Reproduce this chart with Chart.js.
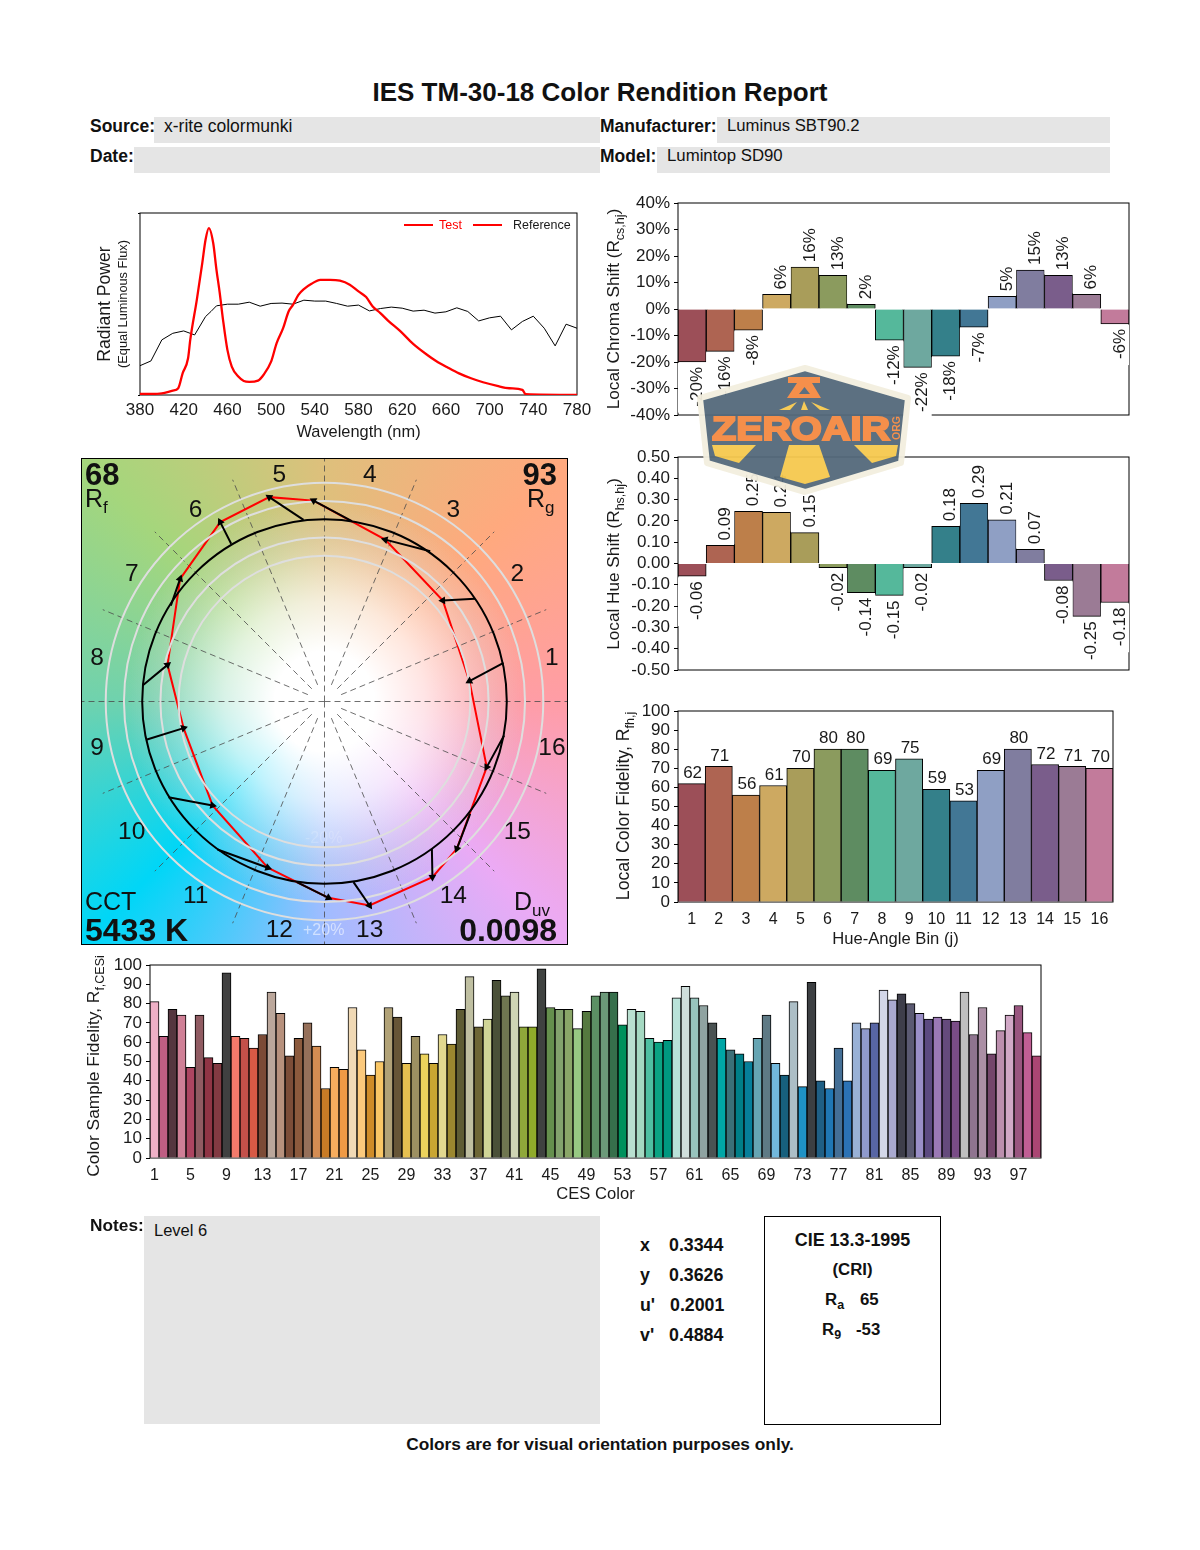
<!DOCTYPE html>
<html>
<head>
<meta charset="utf-8">
<title>IES TM-30-18 Color Rendition Report</title>
<script src="https://cdn.jsdelivr.net/npm/chart.js@4"></script>
<style>
  html, body { margin: 0; padding: 0; background: #fff; }
  body { position: relative; width: 1200px; height: 1550px; overflow: hidden; font-family: "Liberation Sans", Arial, sans-serif; color: #111; }
  canvas { position: absolute; display: block; }
  .t { position: absolute; white-space: nowrap; line-height: 1; }
  .b { font-weight: bold; }
  .box { position: absolute; background: #e5e5e5; }
  .ytitle { position: absolute; white-space: nowrap; line-height: 1; font-size: 17.2px; color: #1a1a1a; transform: translate(-50%, -50%) rotate(-90deg); }
  .ytitle sub { font-size: 12.5px; line-height: 0; }
  .pt { position: absolute; white-space: nowrap; line-height: 1; color: #111; }
  .pt sub { line-height: 0; }
  #logo { position: absolute; left: 0; top: 0; opacity: .95; }
</style>
</head>
<body>

<div class="t b" style="left:0;width:1200px;text-align:center;top:79px;font-size:26px">IES TM-30-18 Color Rendition Report</div>

<div class="box" style="left:154px;top:117px;width:446px;height:26px"></div>
<div class="box" style="left:134px;top:147px;width:466px;height:26px"></div>
<div class="box" style="left:717px;top:117px;width:393px;height:26px"></div>
<div class="box" style="left:657px;top:147px;width:453px;height:26px"></div>
<div class="t b" style="left:90px;top:118px;font-size:17.5px">Source:</div>
<div class="t" style="left:164px;top:118px;font-size:17.5px">x-rite colormunki</div>
<div class="t b" style="left:90px;top:148px;font-size:17.5px">Date:</div>
<div class="t b" style="left:600px;top:118px;font-size:17.5px">Manufacturer:</div>
<div class="t" style="left:727px;top:118px;font-size:16.7px">Luminus SBT90.2</div>
<div class="t b" style="left:600px;top:148px;font-size:17.5px">Model:</div>
<div class="t" style="left:667px;top:148px;font-size:16.8px">Lumintop SD90</div>

<canvas id="spdChart"></canvas>
<canvas id="polarChart"></canvas>
<canvas id="chromaChart"></canvas>
<canvas id="hueChart"></canvas>
<canvas id="fidelityChart"></canvas>
<canvas id="cesChart"></canvas>

<div class="ytitle" style="left:105px;top:304px;font-size:17.6px">Radiant Power</div>
<div class="ytitle" style="left:123px;top:304px;font-size:12.8px">(Equal Luminous Flux)</div>
<div class="ytitle" style="left:614px;top:309px">Local Chroma Shift (R<sub>cs,hj</sub>)</div>
<div class="ytitle" style="left:614px;top:564px">Local Hue Shift (R<sub>hs,hj</sub>)</div>
<div class="ytitle" style="left:624px;top:806px;font-size:17.7px">Local Color Fidelity, R<sub>fh,j</sub></div>
<div class="ytitle" style="left:94px;top:1066px;font-size:17.4px">Color Sample Fidelity, R<sub>f,CESi</sub></div>

<!-- numbers printed on the vector graphic -->
<div class="pt b" style="left:85px;top:459px;font-size:31px">68</div>
<div class="pt" style="left:85px;top:486px;font-size:25px">R<sub style="font-size:17px">f</sub></div>
<div class="pt b" style="right:643px;top:459px;font-size:31px">93</div>
<div class="pt" style="left:527px;top:486px;font-size:25px">R<sub style="font-size:17px">g</sub></div>
<div class="pt" style="left:85px;top:889px;font-size:25px">CCT</div>
<div class="pt b" style="left:85px;top:914px;font-size:32px">5433 K</div>
<div class="pt" style="left:514px;top:889px;font-size:25px">D<sub style="font-size:17px">uv</sub></div>
<div class="pt b" style="right:643px;top:914px;font-size:32px">0.0098</div>
<div class="pt" style="left:303px;top:922px;font-size:16px;color:rgba(255,255,255,.55)">+20%</div>
<div class="pt" style="left:305px;top:830px;font-size:16px;color:rgba(255,255,255,.18)">-20%</div>

<div class="t b" style="left:90px;top:1217px;font-size:17.3px">Notes:</div>
<div class="box" style="left:144px;top:1216px;width:456px;height:208px"></div>
<div class="t" style="left:154px;top:1222px;font-size:16.5px">Level 6</div>

<div class="t b" style="left:640px;top:1237px;font-size:17.8px">x</div><div class="t b" style="left:669px;top:1237px;font-size:17.8px">0.3344</div>
<div class="t b" style="left:640px;top:1267px;font-size:17.8px">y</div><div class="t b" style="left:669px;top:1267px;font-size:17.8px">0.3626</div>
<div class="t b" style="left:640px;top:1297px;font-size:17.8px">u'</div><div class="t b" style="left:670px;top:1297px;font-size:17.8px">0.2001</div>
<div class="t b" style="left:640px;top:1327px;font-size:17.8px">v'</div><div class="t b" style="left:669px;top:1327px;font-size:17.8px">0.4884</div>

<div style="position:absolute;left:764px;top:1216px;width:175px;height:207px;border:1px solid #000"></div>
<div class="t b" style="left:764px;width:177px;text-align:center;top:1232px;font-size:17.9px">CIE 13.3-1995</div>
<div class="t b" style="left:764px;width:177px;text-align:center;top:1262px;font-size:16.8px">(CRI)</div>
<div class="t b" style="left:825px;top:1292px;font-size:16.8px">R<sub style="font-size:12.5px;line-height:0">a</sub></div>
<div class="t b" style="left:860px;top:1292px;font-size:16.8px">65</div>
<div class="t b" style="left:822px;top:1322px;font-size:16.8px">R<sub style="font-size:12.5px;line-height:0">9</sub></div>
<div class="t b" style="left:856px;top:1322px;font-size:16.8px">-53</div>

<div class="t b" style="left:0;width:1200px;text-align:center;top:1436px;font-size:17.3px">Colors are for visual orientation purposes only.</div>

<!-- watermark on top of the report -->
<svg id="logo" width="1200" height="520" viewBox="0 0 1200 520">
  <polygon points="805,368 908,398 901,463 805,492 707,463 700,398" fill="#54697b" stroke="#f3efdf" stroke-width="6" stroke-linejoin="round"/>
  <g fill="#f58a42">
    <rect x="788" y="377" width="32" height="6"/>
    <path fill-rule="evenodd" d="M797,383 H812 L821,398 H787 Z M804.5,387 L799,394 H810 Z"/>
    <text x="712" y="440" font-family="Liberation Sans" font-weight="bold" font-size="33" textLength="178" lengthAdjust="spacingAndGlyphs" stroke="#f58a42" stroke-width="2">ZEROAIR</text>
    <text transform="translate(900,440) rotate(-90)" font-family="Liberation Sans" font-weight="bold" font-size="10" textLength="24" lengthAdjust="spacingAndGlyphs">ORG</text>
  </g>
  <g fill="#f6c94f">
    <polygon points="779,410 797,402 790,410"/>
    <polygon points="801,410 804,401 808,410"/>
    <polygon points="811,402 830,410 820,410"/>
    <polygon points="712,445 756,445 739,463 715,456"/>
    <polygon points="789,445 819,445 830,477 805,484 780,477"/>
    <polygon points="854,445 898,445 896,456 872,463"/>
  </g>
</svg>

<script>
// Spectral power distribution (relative units)
const testWavelengths = [380, 390, 400, 410, 415, 419, 424, 426, 432, 437, 440, 443, 447, 450, 453, 456, 460, 464, 470, 475, 480, 488, 493, 500, 505, 511, 516, 520, 525, 530, 537, 545, 554, 563, 572, 580, 587, 593, 600, 607, 618, 630, 643, 651, 662, 672, 683, 694, 707, 718, 730, 733, 780];
const testPower = [.006, .006, .009, .024, .037, .119, .202, .303, .523, .725, .853, .917, .835, .688, .56, .413, .248, .156, .101, .077, .072, .079, .11, .183, .284, .367, .459, .495, .55, .582, .611, .633, .633, .628, .606, .569, .538, .486, .45, .409, .352, .281, .22, .187, .15, .119, .092, .07, .05, .037, .028, .004, 0];
const refWavelengths = [380, 390, 400, 410, 420, 430, 440, 445, 450, 460, 470, 480, 490, 500, 510, 520, 530, 540, 550, 560, 570, 580, 590, 600, 610, 620, 630, 640, 650, 660, 670, 680, 690, 700, 710, 720, 730, 740, 750, 760, 770, 780];
const refPower = [.161, .187, .303, .339, .352, .33, .431, .459, .49, .499, .499, .51, .488, .503, .505, .499, .521, .516, .516, .503, .488, .494, .462, .475, .483, .477, .461, .466, .45, .457, .479, .459, .407, .424, .433, .358, .404, .433, .367, .27, .389, .367];
const legendLabels = ['Test', 'Reference'];

// Vector graphic, reference circle has radius 1
const binNames = ['1', '2', '3', '4', '5', '6', '7', '8', '9', '10', '11', '12', '13', '14', '15', '16'];
const testX = [.795, .649, .333, -.060, -.303, -.572, -.792, -.861, -.773, -.614, -.311, .022, .247, .592, .726, .890];
const testY = [.112, .554, .888, 1.102, 1.121, .984, .673, .201, -.146, -.570, -.912, -1.077, -1.119, -.963, -.808, -.360];
const refX = [.982, .826, .580, .150, -.115, -.512, -.843, -.998, -.978, -.856, -.587, -.152, .159, .589, .799, .985];
const refY = [.212, .563, .824, .989, .996, .865, .526, .088, -.210, -.525, -.812, -.991, -.991, -.808, -.616, -.186];
const ringRadii = [.8, .9, 1.1, 1.2];

// Hue-angle bins
const binColors = ['#9c4f58', '#ae6452', '#bd7f4a', '#cda961', '#a99d5a', '#8b9b5e', '#5e8c61', '#55b89b', '#6ea89f', '#34808a', '#427795', '#8f9fc4', '#807d9f', '#7a5d8b', '#9b7b95', '#c27b9b'];
const chromaShift = [-20, -16, -8, 5.5, 15.8, 12.7, 1.8, -11.8, -22, -17.8, -6.9, 4.8, 14.7, 12.7, 5.5, -5.6];
const chromaTexts = ['-20%', '-16%', '-8%', '6%', '16%', '13%', '2%', '-12%', '-22%', '-18%', '-7%', '5%', '15%', '13%', '6%', '-6%'];
const hueShift = [-.06, .085, .245, .24, .145, -.02, -.137, -.15, -.02, .175, .283, .205, .067, -.08, -.248, -.183];
const hueTexts = ['-0.06', '0.09', '0.25', '0.24', '0.15', '-0.02', '-0.14', '-0.15', '-0.02', '0.18', '0.29', '0.21', '0.07', '-0.08', '-0.25', '-0.18'];
const binFidelity = [62, 71, 56, 61, 70, 80, 80, 69, 75, 59, 53, 69, 80, 72, 71, 70];

// CES samples
const cesNames = Array.from({ length: 99 }, (_, i) => String(i + 1));
const cesFidelity = [81, 63, 77, 74, 47, 74, 52, 49, 96, 63, 62, 57, 64, 86, 75, 53, 62, 70, 58, 36, 47, 46, 78, 56, 43, 50, 78, 73, 49, 63, 54, 49, 64, 59, 77, 94, 68, 72, 92, 84, 86, 68, 68, 98, 78, 77, 77, 67, 76, 84, 86, 86, 69, 77, 76, 62, 60, 61, 83, 89, 83, 79, 70, 62, 56, 54, 50, 62, 74, 49, 43, 81, 37, 91, 40, 36, 57, 40, 70, 67, 70, 87, 82, 85, 80, 75, 72, 73, 72, 71, 86, 64, 78, 54, 66, 74, 79, 65, 53];
const cesColors = ['#eeb0c6', '#bf5e83', '#55363f', '#cf7f96', '#ad4561', '#905b62', '#8f3545', '#823a42', '#404040', '#f37a6b', '#c4504a', '#d85a45', '#7c4b36', '#bba79b', '#b7917d', '#7c4d38', '#8c5a3d', '#96705a', '#d48c52', '#c87b26', '#f7ad5e', '#ef9a45', '#f0d9b5', '#fbc97c', '#cf8c28', '#fac766', '#b1a277', '#675637', '#e6c050', '#9d9062', '#ecd35c', '#c9a632', '#e2d88f', '#9b872f', '#5e5c34', '#bfbfa1', '#6d6636', '#d0d596', '#4a5038', '#6f7650', '#cfd5b4', '#8fa83a', '#8fab2a', '#3f4240', '#65904d', '#83a36d', '#8aa668', '#97c983', '#55793f', '#5c9064', '#6c9979', '#366f4b', '#00915c', '#b9e0d0', '#a5d9c2', '#4fc0a2', '#0ba383', '#009880', '#b9e2d9', '#cfdedb', '#98c4bd', '#8fa3a1', '#4a5252', '#00a6a6', '#3b7078', '#007f88', '#067f9a', '#66a5b3', '#5e7a85', '#72b8dc', '#17607d', '#acbec6', '#1f92c5', '#3c3f42', '#1f5f85', '#1f77b4', '#446f96', '#2b72b5', '#99b1d6', '#8f9acd', '#5866a5', '#d3d7e8', '#a9a9cf', '#3e3e4a', '#5b5a72', '#9a8fc7', '#5c4a80', '#9b79b5', '#654a7c', '#7a4d87', '#bfbfbf', '#8f748f', '#ab8fa5', '#74466b', '#bc8fae', '#d1a8c6', '#99557f', '#c05e94', '#ab4673'];

const FONT = '"Liberation Sans", Arial, sans-serif';
const TICK_SIZE = 17;
const INK = '#1a1a1a';
Chart.defaults.font.family = FONT;
Chart.defaults.color = INK;
Chart.defaults.animation = false;
Chart.defaults.devicePixelRatio = 1;
Chart.defaults.responsive = false;
Chart.defaults.maintainAspectRatio = false;
Chart.defaults.plugins.legend.display = false;
Chart.defaults.plugins.tooltip.enabled = false;

const GUTTER = 70;
const PAD = 20;

// puts a canvas on the page so the plot area lands on the given rectangle
function placePlot(id, plot, axisHeight) {
  const canvas = document.getElementById(id);
  canvas.width = plot.right - plot.left + GUTTER + PAD;
  canvas.height = plot.bottom - plot.top + PAD + (axisHeight || PAD);
  canvas.style.left = (plot.left - GUTTER) + 'px';
  canvas.style.top = (plot.top - PAD) + 'px';
  return {
    canvas: canvas,
    padding: { top: PAD, right: PAD, bottom: axisHeight ? 0 : PAD, left: 0 },
    fitY: scale => { scale.width = GUTTER; },
    fitX: scale => { scale.height = axisHeight; }
  };
}

const plotFrame = {
  id: 'plotFrame',
  beforeDatasetsDraw(chart) {
    const a = chart.chartArea, ctx = chart.ctx;
    ctx.save();
    ctx.strokeStyle = '#000';
    ctx.lineWidth = 1;
    ctx.strokeRect(a.left, a.top, a.right - a.left, a.bottom - a.top);
    ctx.restore();
  }
};

// value labels over the bars, with the white backing the report has
const barLabels = {
  id: 'barLabels',
  afterDatasetsDraw(chart, args, opts) {
    if (!opts.texts) return;
    const ctx = chart.ctx;
    const bars = chart.getDatasetMeta(0).data;
    const values = chart.data.datasets[0].data;
    ctx.save();
    ctx.font = opts.size + 'px ' + FONT;
    ctx.fillStyle = INK;
    bars.forEach((bar, i) => {
      const text = opts.texts[i];
      if (opts.rotated) {
        const w = ctx.measureText(text).width;
        const down = values[i] < 0;
        const h = w + 2 * opts.gap;
        ctx.fillStyle = '#fff';
        ctx.fillRect(bar.x - bar.width / 2, down ? bar.y + 1 : bar.y - h - 1, bar.width, h);
        ctx.fillStyle = INK;
        ctx.save();
        ctx.translate(bar.x + 5, bar.y + (down ? opts.gap : -opts.gap));
        ctx.rotate(-Math.PI / 2);
        ctx.textAlign = down ? 'right' : 'left';
        ctx.textBaseline = 'middle';
        ctx.fillText(text, 0, 0);
        ctx.restore();
      } else {
        ctx.textAlign = 'center';
        ctx.textBaseline = 'bottom';
        ctx.fillText(text, bar.x + 1, bar.y - 2);
      }
    });
    ctx.restore();
  }
};

function barChart(id, plot, axisHeight, cfg) {
  const place = placePlot(id, plot, axisHeight);
  return new Chart(place.canvas, {
    type: 'bar',
    data: {
      labels: cfg.labels,
      datasets: [{
        data: cfg.values,
        backgroundColor: cfg.colors,
        borderColor: '#000',
        borderWidth: 1,
        barPercentage: 1,
        categoryPercentage: 1
      }]
    },
    options: {
      layout: { padding: place.padding },
      plugins: { barLabels: cfg.barLabels || {} },
      scales: {
        x: {
          display: !!axisHeight,
          afterFit: place.fitX,
          grid: { display: false, drawTicks: false },
          border: { display: false },
          ticks: {
            autoSkip: false,
            maxRotation: 0,
            padding: 8,
            font: { size: 16 },
            callback: cfg.xTick || function (value) { return this.getLabelForValue(value); }
          },
          title: {
            display: !!cfg.xTitle,
            text: cfg.xTitle,
            font: { size: 16.6 },
            padding: 0
          }
        },
        y: {
          min: cfg.min,
          max: cfg.max,
          afterFit: place.fitY,
          grid: { drawOnChartArea: false, tickLength: 4, color: '#000' },
          border: { display: false },
          ticks: {
            stepSize: cfg.step,
            autoSkip: false,
            padding: 4,
            font: { size: TICK_SIZE },
            callback: cfg.yTick
          }
        }
      }
    },
    plugins: [plotFrame, barLabels]
  });
}

// Spectrum
const spdLegend = {
  id: 'spdLegend',
  afterDraw(chart) {
    const ctx = chart.ctx;
    const a = chart.chartArea;
    const y = a.top + 12;
    const items = [
      { line: a.left + 264, text: a.left + 299, color: '#ff0000' },
      { line: a.left + 333, text: a.left + 373, color: INK }
    ];
    ctx.save();
    ctx.font = '12.5px ' + FONT;
    ctx.textBaseline = 'middle';
    items.forEach((it, i) => {
      ctx.strokeStyle = '#ff0000';
      ctx.lineWidth = 2;
      ctx.beginPath();
      ctx.moveTo(it.line, y);
      ctx.lineTo(it.line + 29, y);
      ctx.stroke();
      ctx.fillStyle = it.color;
      ctx.fillText(legendLabels[i], it.text, y + 1);
    });
    ctx.restore();
  }
};

const spdPlace = placePlot('spdChart', { left: 140, top: 213, right: 577, bottom: 395 }, 47);
new Chart(spdPlace.canvas, {
  type: 'scatter',
  data: {
    datasets: [
      {
        label: legendLabels[0],
        data: testWavelengths.map((x, i) => ({ x: x, y: testPower[i] })),
        showLine: true,
        borderColor: '#ff0000',
        borderWidth: 2.3,
        cubicInterpolationMode: 'monotone',
        pointRadius: 0,
        order: 1
      },
      {
        label: legendLabels[1],
        data: refWavelengths.map((x, i) => ({ x: x, y: refPower[i] })),
        showLine: true,
        borderColor: '#000',
        borderWidth: 1,
        pointRadius: 0,
        order: 2
      }
    ]
  },
  options: {
    layout: { padding: spdPlace.padding },
    scales: {
      x: {
        min: 380,
        max: 780,
        afterFit: spdPlace.fitX,
        grid: { display: false, drawTicks: false },
        border: { display: false },
        ticks: { stepSize: 40, autoSkip: false, maxRotation: 0, padding: 5, font: { size: TICK_SIZE } },
        title: { display: true, text: 'Wavelength (nm)', font: { size: 16.4 }, padding: 0 }
      },
      y: {
        min: 0,
        max: 1,
        afterFit: spdPlace.fitY,
        grid: { drawOnChartArea: false, tickLength: 2, color: '#000' },
        border: { display: false },
        ticks: { stepSize: 1, callback: () => '' }
      }
    }
  },
  plugins: [plotFrame, spdLegend]
});

// Vector graphic: colour wheel behind, rings and reference circle over the red polygon
const POLAR_RANGE = 243.5 / 182.3;
const polarPaint = {
  id: 'polarPaint',
  beforeDraw(chart) {
    const ctx = chart.ctx, a = chart.chartArea;
    const cx = chart.scales.x.getPixelForValue(0), cy = chart.scales.y.getPixelForValue(0);
    const unit = chart.scales.x.getPixelForValue(1) - cx;
    const wheel = ctx.createConicGradient(0, cx, cy);
    [['#ff9da6', 0], ['#ebaaf5', 1 / 8], ['#a0bcff', 1 / 4], ['#00d6f7', 3 / 8], ['#6fd2ae', 1 / 2], ['#a5d67c', 5 / 8], ['#dec07c', 3 / 4], ['#ffa97e', 7 / 8], ['#ff9da6', 1]]
      .forEach(s => wheel.addColorStop(s[1], s[0]));
    ctx.fillStyle = wheel;
    ctx.fillRect(a.left, a.top, a.right - a.left, a.bottom - a.top);

    const grey = ctx.createRadialGradient(cx, cy, 0, cx, cy, unit * 1.3);
    grey.addColorStop(.45, 'rgba(90,90,90,0)');
    grey.addColorStop(.7, 'rgba(90,90,90,.06)');
    grey.addColorStop(.85, 'rgba(90,90,90,0)');
    ctx.fillStyle = grey;
    ctx.fillRect(a.left, a.top, a.right - a.left, a.bottom - a.top);

    const white = ctx.createRadialGradient(cx, cy, 0, cx, cy, unit * 1.1);
    white.addColorStop(0, 'rgba(255,255,255,1)');
    white.addColorStop(.25, 'rgba(255,255,255,1)');
    white.addColorStop(.5, 'rgba(255,255,255,.72)');
    white.addColorStop(.75, 'rgba(255,255,255,.32)');
    white.addColorStop(1, 'rgba(255,255,255,0)');
    ctx.fillStyle = white;
    ctx.fillRect(a.left, a.top, a.right - a.left, a.bottom - a.top);
  },
  beforeDatasetsDraw(chart) {
    const ctx = chart.ctx;
    const cx = chart.scales.x.getPixelForValue(0), cy = chart.scales.y.getPixelForValue(0);
    const unit = chart.scales.x.getPixelForValue(1) - cx;
    ctx.save();
    ctx.strokeStyle = '#4a4a4a';
    ctx.lineWidth = .8;
    ctx.setLineDash([6, 4]);
    for (let i = 0; i < 16; i++) {
      const ang = i * Math.PI / 8;
      const from = i % 4 === 0 ? 0 : 18;
      const to = i % 4 === 0 ? 243 : 240;
      ctx.beginPath();
      ctx.moveTo(cx + Math.cos(ang) * from, cy + Math.sin(ang) * from);
      ctx.lineTo(cx + Math.cos(ang) * to, cy + Math.sin(ang) * to);
      ctx.stroke();
    }
    ctx.setLineDash([]);
    ctx.restore();

    // bin numbers around the wheel
    ctx.save();
    ctx.fillStyle = '#111';
    ctx.font = '24.5px ' + FONT;
    ctx.textAlign = 'center';
    ctx.textBaseline = 'middle';
    binNames.forEach((name, i) => {
      const ang = (i + .5) * Math.PI / 8;
      ctx.fillText(name, cx + Math.cos(ang) * unit * 1.272, cy + 1.5 - Math.sin(ang) * unit * 1.272);
    });
    ctx.restore();
  },
  afterDatasetDraw(chart, args) {
    if (args.index !== 0) return;
    const ctx = chart.ctx;
    const cx = chart.scales.x.getPixelForValue(0), cy = chart.scales.y.getPixelForValue(0);
    const unit = chart.scales.x.getPixelForValue(1) - cx;
    ctx.save();
    ctx.strokeStyle = '#dedede';
    ctx.lineWidth = 2;
    ringRadii.forEach(r => {
      ctx.beginPath();
      ctx.arc(cx, cy, r * unit, 0, Math.PI * 2);
      ctx.stroke();
    });
    ctx.strokeStyle = '#000';
    ctx.lineWidth = 2;
    ctx.beginPath();
    ctx.arc(cx, cy, unit, 0, Math.PI * 2);
    ctx.stroke();
    ctx.restore();
  },
  afterDraw(chart) {
    const a = chart.chartArea, ctx = chart.ctx;
    ctx.save();
    ctx.strokeStyle = '#000';
    ctx.lineWidth = 1;
    ctx.strokeRect(a.left + .5, a.top + .5, a.right - a.left - 1, a.bottom - a.top - 1);
    ctx.restore();
  }
};

const polarCanvas = document.getElementById('polarChart');
polarCanvas.width = 487;
polarCanvas.height = 487;
polarCanvas.style.left = '81px';
polarCanvas.style.top = '458px';

const polygon = testX.map((x, i) => ({ x: x, y: testY[i] }));
polygon.push(polygon[0]);
const arrowShafts = [];
testX.forEach((x, i) => {
  arrowShafts.push({ x: refX[i], y: refY[i] }, { x: x, y: testY[i] }, { x: null, y: null });
});

new Chart(polarCanvas, {
  type: 'scatter',
  data: {
    datasets: [
      { data: polygon, showLine: true, borderColor: '#ff0000', borderWidth: 2, pointRadius: 0, order: 3 },
      { data: arrowShafts, showLine: true, spanGaps: false, borderColor: '#000', borderWidth: 2, pointRadius: 0, order: 2 },
      {
        data: testX.map((x, i) => ({ x: x, y: testY[i] })),
        pointStyle: 'triangle',
        pointRadius: 4.5,
        pointBackgroundColor: '#000',
        pointBorderColor: '#000',
        pointBorderWidth: 0,
        pointRotation: testX.map((x, i) => Math.atan2(x - refX[i], testY[i] - refY[i]) * 180 / Math.PI),
        order: 1
      }
    ]
  },
  options: {
    layout: { padding: 0, autoPadding: false },
    scales: {
      x: { display: false, min: -POLAR_RANGE, max: POLAR_RANGE },
      y: { display: false, min: -POLAR_RANGE, max: POLAR_RANGE }
    }
  },
  plugins: [polarPaint]
});

// Local chroma shift
barChart('chromaChart', { left: 678, top: 203, right: 1129, bottom: 415 }, 0, {
  labels: binNames,
  values: chromaShift,
  colors: binColors,
  min: -40,
  max: 40,
  step: 10,
  yTick: v => v + '%',
  barLabels: { texts: chromaTexts, rotated: true, gap: 5, size: 17 }
});

// Local hue shift
barChart('hueChart', { left: 678, top: 457, right: 1129, bottom: 670 }, 0, {
  labels: binNames,
  values: hueShift,
  colors: binColors,
  min: -.5,
  max: .5,
  step: .1,
  yTick: v => v.toFixed(2),
  barLabels: { texts: hueTexts, rotated: true, gap: 5, size: 17 }
});

// Local color fidelity
barChart('fidelityChart', { left: 678, top: 711, right: 1113, bottom: 902 }, 47, {
  labels: binNames,
  values: binFidelity,
  colors: binColors,
  min: 0,
  max: 100,
  step: 10,
  xTitle: 'Hue-Angle Bin (j)',
  barLabels: { texts: binFidelity.map(String), rotated: false, size: 17 }
});

// CES samples
barChart('cesChart', { left: 150, top: 965, right: 1041, bottom: 1158 }, 46, {
  labels: cesNames,
  values: cesFidelity,
  colors: cesColors,
  min: 0,
  max: 100,
  step: 10,
  xTitle: 'CES Color',
  xTick: function (value, index) { return index % 4 === 0 ? this.getLabelForValue(value) : ''; }
});
</script>
</body>
</html>
